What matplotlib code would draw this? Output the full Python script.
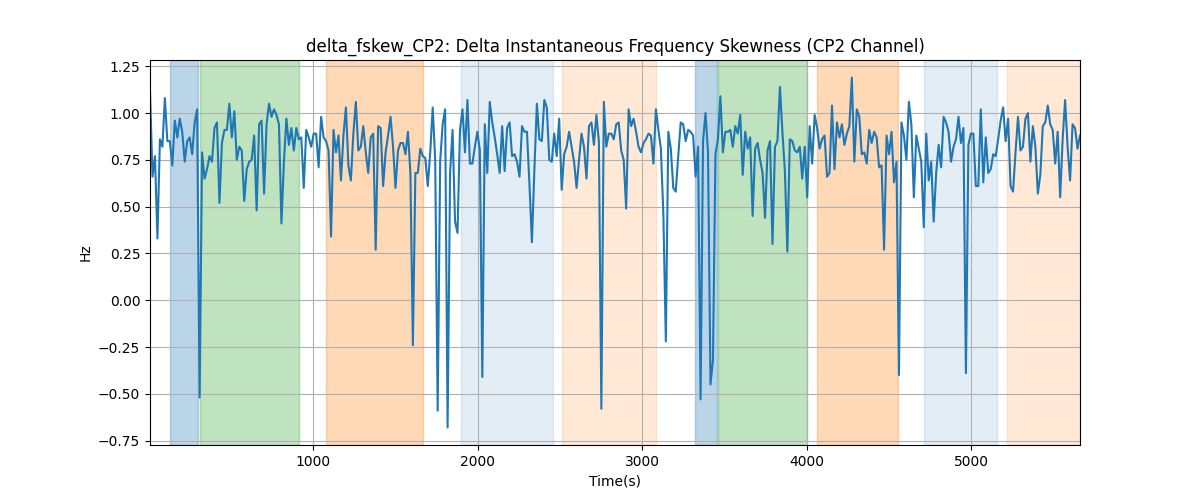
import matplotlib
matplotlib.use("Agg")
import matplotlib.pyplot as plt
import numpy as np

# delta_fskew values (Hz), left to right
seg1 = [1.12, 0.66, 0.77, 0.33, 0.86, 0.82, 1.08, 0.85, 0.85, 0.72, 0.96, 0.87, 0.97, 0.90,
        0.74, 0.85, 0.87, 0.78, 0.95, 1.02, -0.52, 0.79, 0.65, 0.70, 0.77, 0.74, 0.92, 0.95,
        0.52, 0.84, 0.91, 0.91, 1.05, 0.87, 1.01, 0.75]
seg2 = [0.82, 0.80, 0.53, 0.70, 0.74, 0.75, 0.88, 0.48, 0.94, 0.96, 0.57, 0.94, 1.05, 0.98,
        1.02, 0.99, 0.94, 0.41, 0.74, 0.97, 0.83, 0.92, 0.80, 0.92, 0.86, 0.87, 0.60, 0.91,
        0.87, 0.82, 0.89, 0.89, 0.71, 0.98, 0.87, 0.85, 0.80, 0.34, 0.91]
seg3 = [0.79, 0.88, 0.64, 0.88, 1.03, 0.72, 0.64, 0.89, 1.06, 0.80, 0.82, 0.93, 0.79, 0.68,
        0.87, 0.89, 0.27, 0.93, 0.92, 0.61, 0.79, 0.88, 0.98, 0.82, 0.60, 0.80, 0.84, 0.84,
        0.78, 0.90, 0.68, -0.24, 0.68, 0.68, 0.81, 0.77, 0.76, 0.61, 0.79]
seg4 = [1.03, 0.75, -0.59, 0.74, 0.94, 1.02, -0.68, 0.68, 0.91, 0.42, 0.36, 0.91, 1.02, 0.79,
        1.07, 0.73, 0.73, 0.82, 0.90, 0.80, -0.41, 0.94, 0.68, 1.06, 0.95, 0.87, 0.78, 0.68,
        0.93, 0.69, 0.92, 0.95, 0.77, 0.78, 0.74, 0.66, 0.93, 0.90]
seg5 = [0.90, 0.62, 0.31, 0.70, 1.05, 0.86, 0.85, 1.07, 1.03, 0.75, 0.74, 0.89, 0.77, 0.97,
        0.59, 0.78, 0.82, 0.90, 0.82, 0.74, 0.60, 0.75, 0.89, 0.82, 0.65, 0.93, 0.95, 0.83,
        0.99, 0.85, -0.58, 1.06, 0.82, 0.89, 0.89, 0.86, 0.94, 0.95, 0.80]
seg6 = [0.75, 0.49, 1.02, 0.93, 0.97, 0.90, 0.82, 0.79, 0.84, 0.86, 0.89, 0.88, 0.73, 1.02,
        0.91, 0.81, 0.46, -0.22, 0.90, 0.81, 0.60, 0.58, 0.77, 0.95, 0.94, 0.85, 0.91, 0.90,
        0.88, 0.66, 0.82, -0.53, 0.85, 1.00, 0.79, -0.45, -0.32, 0.78]
seg7 = [0.86, 1.09, 0.79, 0.90, 0.90, 0.91, 0.82, 0.93, 0.89, 0.99, 0.67, 0.90, 0.81, 0.87,
        0.45, 0.81, 0.84, 0.75, 0.68, 0.44, 0.80, 0.85, 0.30, 0.82, 0.85, 1.14, 0.90, 0.69,
        0.26, 0.86, 0.85, 0.80, 0.79, 0.82, 0.65, 0.82, 0.55, 0.93]
seg8 = [0.73, 0.99, 0.92, 0.81, 0.86, 0.88, 0.66, 0.68, 1.04, 0.70, 0.95, 0.87, 0.94, 0.83,
        0.89, 0.93, 1.19, 0.74, 1.02, 0.98, 0.78, 0.79, 0.73, 0.91, 0.84, 0.90, 0.87, 0.71,
        0.72, 0.27, 0.88, 0.78, 0.90, 0.63, 0.74, -0.40, 0.95, 0.88]
seg9 = [0.75, 1.06, 0.94, 0.55, 0.88, 0.81, 0.74, 0.39, 0.89, 0.64, 0.74, 0.42, 0.68, 0.83,
        0.71, 0.98, 0.95, 0.90, 0.74, 0.82, 0.86, 0.98, 0.84, 0.92, -0.39, 0.83, 0.89, 0.89,
        0.61, 0.61, 1.02, 0.63, 0.87, 0.68, 0.70, 0.78, 0.77, 0.86, 0.96, 1.03]
seg10 = [0.85, 0.97, 0.61, 0.58, 0.79, 0.98, 0.80, 0.82, 0.97, 1.00, 0.74, 0.93, 0.82, 0.57,
         0.67, 0.93, 0.95, 1.04, 0.94, 0.91, 0.73, 0.90, 0.55, 0.86, 1.07, 0.82, 0.64, 0.94,
         0.92, 0.81, 0.88]

values = seg1 + seg2 + seg3 + seg4 + seg5 + seg6 + seg7 + seg8 + seg9 + seg10
t_start, t_end = 8, 5663
t = np.linspace(t_start, t_end, len(values))
y = np.array(values)

# shaded phases (start, end, colour, alpha)
span_start = [131, 313, 1079, 1900, 2514, 3322, 3462, 4064, 4714, 5219]
span_end = [301, 915, 1669, 2459, 3085, 3456, 4003, 4556, 5158, 5663]
span_color = ["tab:blue", "tab:green", "tab:orange", "tab:blue", "tab:orange",
              "tab:blue", "tab:green", "tab:orange", "tab:blue", "tab:orange"]
span_alpha = [0.3, 0.3, 0.3, 0.13, 0.17, 0.3, 0.3, 0.3, 0.13, 0.17]

fig, ax = plt.subplots(figsize=(12, 5), dpi=100)
for s, e, c, a in zip(span_start, span_end, span_color, span_alpha):
    ax.axvspan(s, e, color=c, alpha=a)

ax.plot(t, y, color="tab:blue", linewidth=1.5)
ax.set_xlim(t_start, t_end)
ax.grid(True)
ax.set_title("delta_fskew_CP2: Delta Instantaneous Frequency Skewness (CP2 Channel)")
ax.set_xlabel("Time(s)")
ax.set_ylabel("Hz")

fig.savefig("out.png")
